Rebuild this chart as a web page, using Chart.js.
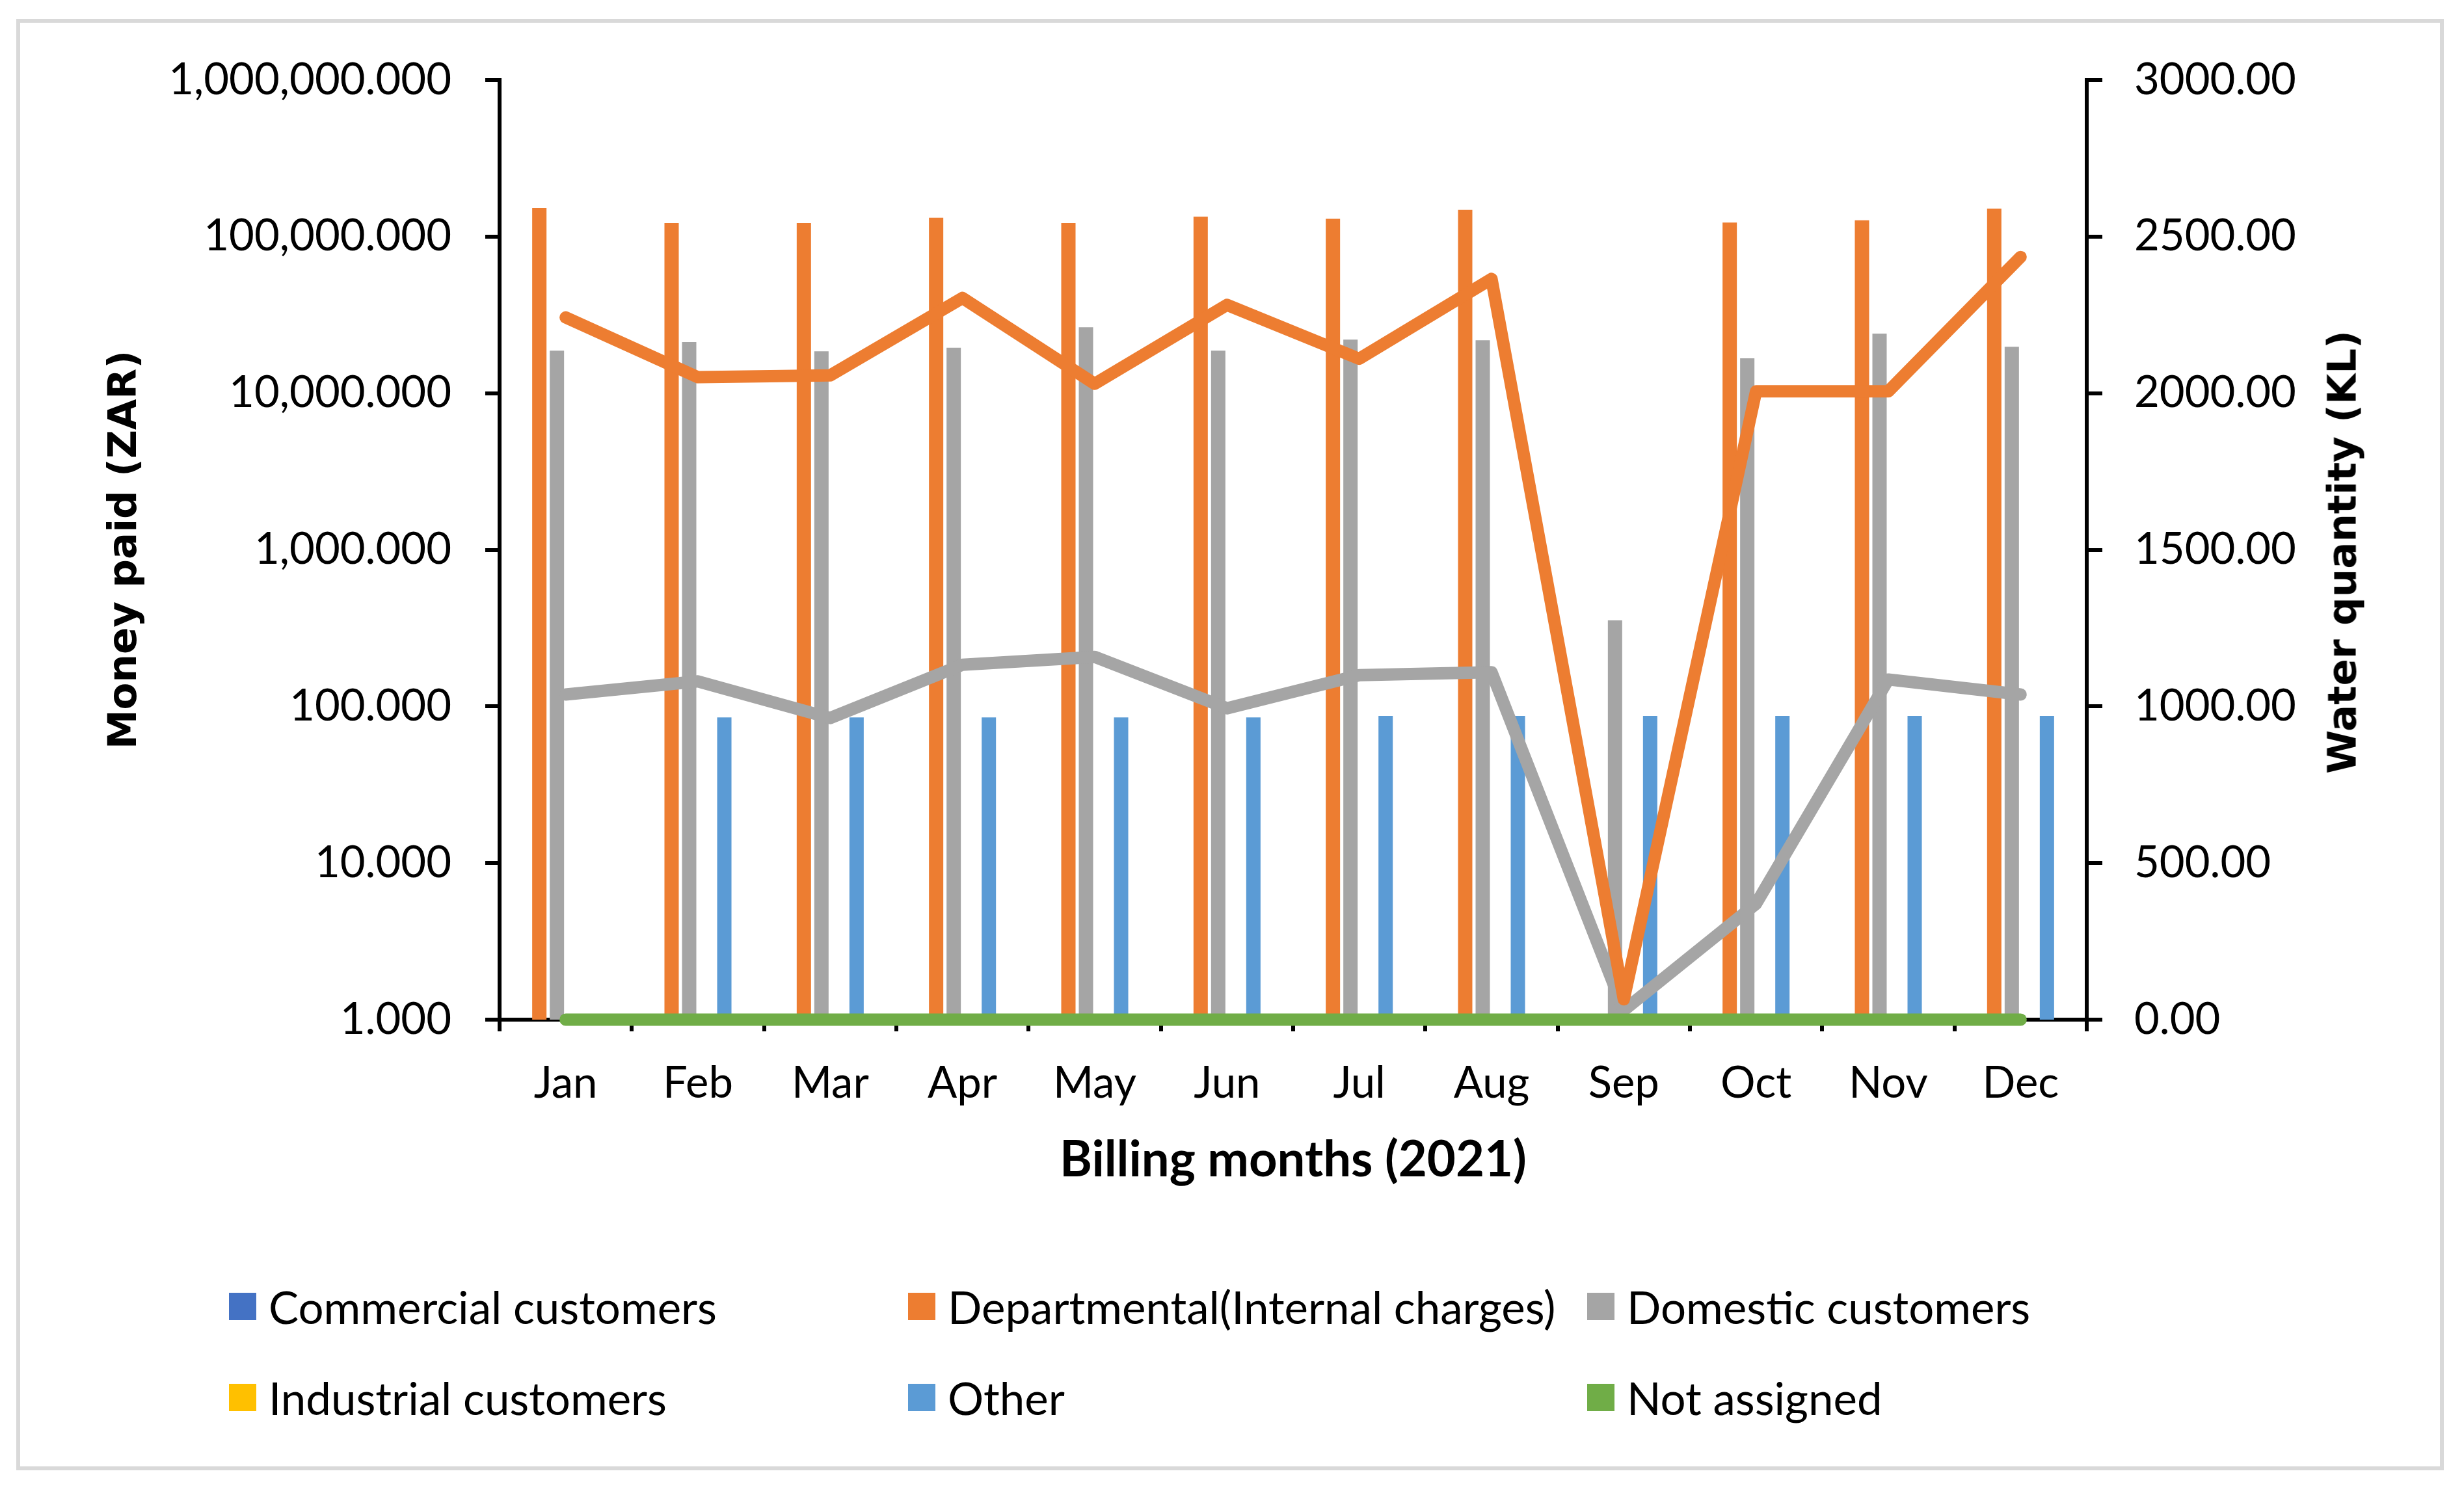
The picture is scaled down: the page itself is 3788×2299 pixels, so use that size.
<!DOCTYPE html>
<html>
<head>
<meta charset="utf-8">
<title>Money paid and water quantity by billing month (2021)</title>
<script src="https://cdn.jsdelivr.net/npm/chart.js@4.4.1/dist/chart.umd.min.js"></script>
<style>
  html, body { margin: 0; padding: 0; background: #fff; }
  #wrap { position: relative; width: 3788px; height: 2299px; overflow: hidden; background: #fff; }
  #frame { position: absolute; left: 25px; top: 29px; width: 3732px; height: 2232px;
           box-sizing: border-box; border: 6px solid #d9d9d9; }
  #chart { position: absolute; left: 0; top: 0; }
  #waterTitle { position: absolute; left: 3600px; top: 849px; white-space: nowrap;
                transform: translate(-50%, -50%) rotate(-90deg);
                font: bold 61px "DejaVu Sans", sans-serif; color: #000; }
  .legend-item { position: absolute; display: flex; align-items: center; height: 80px;
                 font: 69px Lato, sans-serif; color: #000; white-space: nowrap; }
  .legend-box { width: 42px; height: 42px; margin-right: 19px; flex: none; }
</style>
</head>
<body>
<div id="wrap">
  <div id="frame"></div>
  <canvas id="chart" width="3788" height="2299"></canvas>
  <div id="waterTitle">Water quantity (KL)</div>
  <div id="legend"></div>
</div>
<script>
// Billing months
const months = ['Jan', 'Feb', 'Mar', 'Apr', 'May', 'Jun', 'Jul', 'Aug', 'Sep', 'Oct', 'Nov', 'Dec'];

// Money paid (ZAR); 0 means no bar shows
const commercialPaid   = [0, 0, 0, 0, 0, 0, 0, 0, 0, 0, 0, 0];
const departmentalPaid = [152000, 122000, 122000, 132000, 122000, 134000, 130000, 148000, 0, 123000, 127000, 151000];
const domesticPaid     = [18700, 21200, 18500, 19500, 26400, 18700, 22000, 21800, 354, 16700, 24000, 19800];
const industrialPaid   = [0, 0, 0, 0, 0, 0, 0, 0, 0, 0, 0, 0];
const otherPaid        = [0, 85, 85, 85, 85, 85, 87, 87, 87, 87, 87, 87];
const notAssignedPaid  = [0, 0, 0, 0, 0, 0, 0, 0, 0, 0, 0, 0];

// Water quantity (KL), right axis
const departmentalWater = [2242, 2051, 2057, 2304, 2030, 2282, 2110, 2365, 65, 2006, 2006, 2435];
const domesticWater     = [1038, 1080, 963, 1133, 1158, 994, 1100, 1109, 30, 370, 1086, 1038];
const notAssignedWater  = [0, 0, 0, 0, 0, 0, 0, 0, 0, 0, 0, 0];

// Axis ticks
const moneyTicks = [1, 10, 100, 1000, 10000, 100000, 1000000];
const moneyTickLabels = ['1.000', '10.000', '100.000', '1,000.000', '10,000.000', '100,000.000', '1,000,000.000'];
const waterTicks = [0, 500, 1000, 1500, 2000, 2500, 3000];
const waterTickLabels = ['0.00', '500.00', '1000.00', '1500.00', '2000.00', '2500.00', '3000.00'];

const seriesNames = ['Commercial customers', 'Departmental(Internal charges)', 'Domestic customers',
                     'Industrial customers', 'Other', 'Not assigned'];
const seriesColors = ['#4472C4', '#ED7D31', '#A5A5A5', '#FFC000', '#5B9BD5', '#70AD47'];
const paidSeries = [commercialPaid, departmentalPaid, domesticPaid, industrialPaid, otherPaid, notAssignedPaid];

const FONT = 'Lato, sans-serif';
const axisColor = '#000';

// zero can't sit on a log axis, so it is left out
const barSets = paidSeries.map((vals, i) => ({
    type: 'bar',
    label: seriesNames[i],
    data: vals.map(v => v > 0 ? v : null),
    backgroundColor: seriesColors[i],
    yAxisID: 'y',
    categoryPercentage: 0.797,
    barPercentage: 0.815,
    order: 3
}));

function waterLine(label, vals, color, order) {
    return {
        type: 'line',
        label: label,
        data: vals,
        borderColor: color,
        backgroundColor: color,
        borderWidth: 19,
        borderJoinStyle: 'round',
        borderCapStyle: 'round',
        pointRadius: 0,
        pointHoverRadius: 0,
        tension: 0,
        fill: false,
        clip: false,
        yAxisID: 'y1',
        order: order
    };
}

const lineSets = [
    waterLine('Not assigned (KL)', notAssignedWater, seriesColors[5], 0),
    waterLine('Departmental(Internal charges) (KL)', departmentalWater, seriesColors[1], 1),
    waterLine('Domestic customers (KL)', domesticWater, seriesColors[2], 2)
];

const ctx = document.getElementById('chart').getContext('2d');
const chart = new Chart(ctx, {
    type: 'bar',
    data: {
        labels: months,
        datasets: lineSets.concat(barSets)
    },
    options: {
        responsive: false,
        animation: false,
        devicePixelRatio: 1,
        layout: { padding: { left: 0, right: 0, top: 123, bottom: 399 } },
        plugins: {
            legend: { display: false },
            tooltip: { enabled: false }
        },
        scales: {
            x: {
                offset: true,
                grid: { offset: true, drawOnChartArea: false, drawTicks: true, tickLength: 18, lineWidth: 6, color: axisColor },
                border: { display: true, color: axisColor, width: 6 },
                ticks: { font: { family: FONT, size: 67 }, color: '#000', padding: 40, maxRotation: 0, autoSkip: false },
                title: { display: true, text: 'Billing months (2021)', color: '#000',
                         font: { family: FONT, size: 76, weight: 'bold' }, padding: { top: 0, bottom: 70 } },
                afterFit: s => { s.height = 332; }
            },
            y: {
                type: 'logarithmic',
                position: 'left',
                min: 1,
                max: 1000000,
                afterBuildTicks: s => { s.ticks = moneyTicks.map(v => ({ value: v })); },
                ticks: { callback: (v, i) => moneyTickLabels[i], font: { family: FONT, size: 67 }, color: '#000', padding: 52 },
                grid: { drawOnChartArea: false, tickLength: 22, lineWidth: 6, color: axisColor },
                border: { display: true, color: axisColor, width: 6 },
                title: { display: true, text: 'Money paid (ZAR)', color: '#000',
                         font: { family: '"DejaVu Sans", sans-serif', size: 61, weight: 'bold' }, padding: { top: 157, bottom: 0 } },
                afterFit: s => { s.width = 768; }
            },
            y1: {
                type: 'linear',
                position: 'right',
                min: 0,
                max: 3000,
                afterBuildTicks: s => { s.ticks = waterTicks.map(v => ({ value: v })); },
                ticks: { callback: (v, i) => waterTickLabels[i], font: { family: FONT, size: 67 }, color: '#000', padding: 49 },
                grid: { drawOnChartArea: false, tickLength: 24, lineWidth: 6, color: axisColor },
                border: { display: true, color: axisColor, width: 6 },
                afterFit: s => { s.width = 580; }
            }
        }
    }
});

// Legend laid out in a 3 x 2 grid like the original
const legendEl = document.getElementById('legend');
barSets.forEach((ds, i) => {
    const item = document.createElement('div');
    item.className = 'legend-item';
    item.style.left = (352 + (i % 3) * 1044) + 'px';
    item.style.top = (2009 - 40 + Math.floor(i / 3) * 140) + 'px';
    item.innerHTML = `<span class="legend-box" style="background:${ds.backgroundColor}"></span><span>${ds.label}</span>`;
    legendEl.appendChild(item);
});
</script>
</body>
</html>
